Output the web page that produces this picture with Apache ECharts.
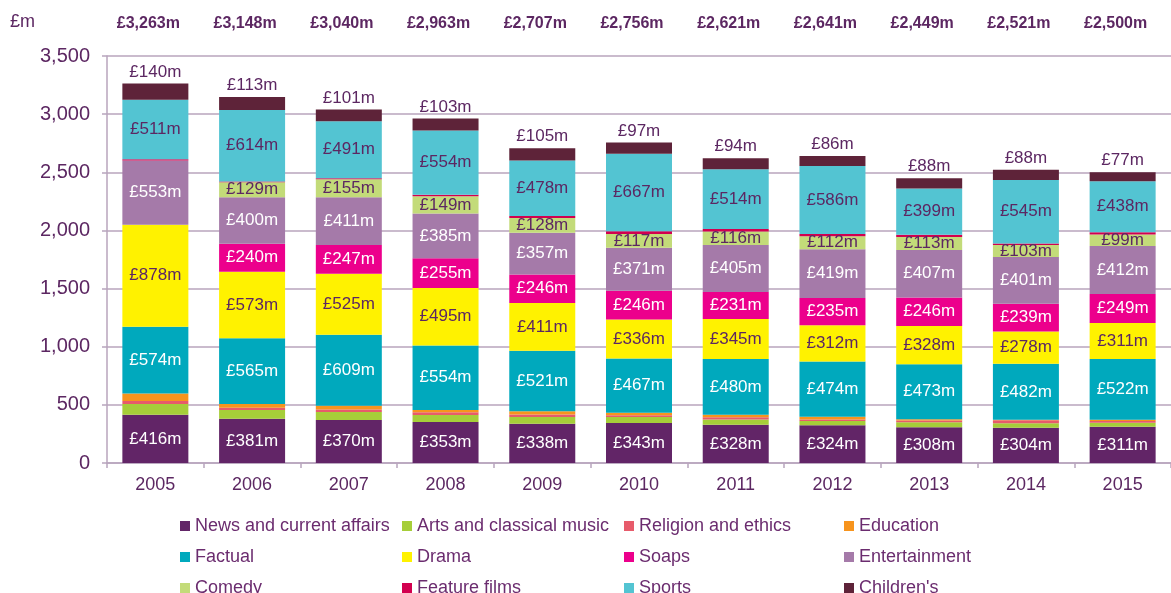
<!DOCTYPE html>
<html>
<head>
<meta charset="utf-8">
<script src="https://cdn.jsdelivr.net/npm/echarts@6/dist/echarts.min.js"></script>
<style>
  html, body { margin: 0; padding: 0; background: #fff; }
  #container { width: 1171px; height: 593px; }
</style>
</head>
<body>
<div id="container"></div>
<script>
var years = ['2005', '2006', '2007', '2008', '2009', '2010', '2011', '2012', '2013', '2014', '2015'];
var totals = ['£3,263m', '£3,148m', '£3,040m', '£2,963m', '£2,707m', '£2,756m', '£2,621m', '£2,641m', '£2,449m', '£2,521m', '£2,500m'];

var news = [416, 381, 370, 353, 338, 343, 328, 324, 308, 304, 311];
var arts = [92, 74, 69, 60, 57, 52, 46, 37, 42, 38, 36];
var religion = [26, 20, 20, 23, 23, 15, 20, 14, 15, 26, 15];
var education = [63, 32, 34, 20, 26, 22, 20, 23, 12, 3, 10];
var factual = [574, 565, 609, 554, 521, 467, 480, 474, 473, 482, 522];
var drama = [878, 573, 525, 495, 411, 336, 345, 312, 328, 278, 311];
var soaps = [0, 240, 247, 255, 246, 246, 231, 235, 246, 239, 249];
var entertainment = [553, 400, 411, 385, 357, 371, 405, 419, 407, 401, 412];
var comedy = [0, 129, 155, 149, 128, 117, 116, 112, 113, 103, 99];
var featureFilms = [10, 7, 8, 12, 17, 23, 22, 19, 18, 14, 20];
var sports = [511, 614, 491, 554, 478, 667, 514, 586, 399, 545, 438];
var childrens = [140, 113, 101, 103, 105, 97, 94, 86, 88, 88, 77];

var yTicks = ['0', '500', '1,000', '1,500', '2,000', '2,500', '3,000', '3,500'];

// legend rows, read left to right
var legendRows = [
    ['News and current affairs', 'Arts and classical music', 'Religion and ethics', 'Education'],
    ['Factual', 'Drama', 'Soaps', 'Entertainment'],
    ['Comedy', 'Feature films', 'Sports', "Children's"]
];

var FONT = "'Liberation Sans', Arial, sans-serif";
var PURPLE = '#5c2762';

function graficoGeneros() {
    var dom = document.getElementById('container');
    var myChart = echarts.init(dom);
    var option;

    function serie(name, data, color, labelColor) {
        var s = {
            name: name,
            type: 'bar',
            stack: 'total',
            barWidth: 66,
            data: data,
            itemStyle: { color: color },
            label: { show: false }
        };
        if (labelColor) {
            s.label = {
                show: true,
                position: 'inside',
                color: labelColor,
                fontSize: 17,
                fontFamily: FONT,
                formatter: function (p) { return p.value > 0 ? '£' + p.value + 'm' : ''; }
            };
        }
        return s;
    }

    var kids = serie("Children's", childrens, '#5e2339');
    kids.label = {
        show: true,
        position: 'top',
        distance: 3,
        color: PURPLE,
        fontSize: 17,
        fontFamily: FONT,
        formatter: '£{c}m'
    };

    // one legend per item so the columns line up like the original
    var cols = [180, 402, 624, 844];
    var rowsY = [524, 555, 586];
    var legends = [];
    legendRows.forEach(function (row, r) {
        row.forEach(function (name, c) {
            legends.push({
                left: cols[c] - 5,
                top: rowsY[r] - 14,
                itemWidth: 10,
                itemHeight: 10,
                icon: 'rect',
                data: [name],
                textStyle: { color: '#6b2c6f', fontSize: 18, fontFamily: FONT, lineHeight: 22 }
            });
        });
    });

    option = {
        animation: false,
        textStyle: { fontFamily: FONT },
        title: {
            text: '£m',
            left: 5,
            top: 8,
            textStyle: { color: PURPLE, fontSize: 18, fontWeight: 'normal', fontFamily: FONT }
        },
        legend: legends,
        grid: { left: 107, right: -14, top: 56, bottom: 130 },
        xAxis: [{
            type: 'category',
            data: years,
            axisLine: { lineStyle: { color: '#b8a5bd', width: 1.5 } },
            axisTick: { show: true, length: 5, lineStyle: { color: '#b8a5bd', width: 1.5 } },
            axisLabel: { color: PURPLE, fontSize: 18, margin: 13, fontFamily: FONT }
        }, {
            type: 'category',
            position: 'top',
            data: totals,
            axisLine: { show: false },
            axisTick: { show: false },
            axisLabel: { color: PURPLE, fontSize: 16, fontWeight: 'bold', margin: 24, padding: [0, 14, 0, 0], fontFamily: FONT }
        }],
        yAxis: {
            type: 'value',
            min: 0,
            max: 3500,
            interval: 500,
            axisLine: { show: true, lineStyle: { color: '#b8a5bd', width: 1.5 } },
            axisTick: { show: true, length: 5, lineStyle: { color: '#b8a5bd', width: 1.5 } },
            splitLine: { lineStyle: { color: '#b8a5bd', width: 1.5 } },
            axisLabel: {
                color: PURPLE,
                fontSize: 20,
                margin: 17,
                fontFamily: FONT,
                formatter: function (v) { return yTicks[v / 500]; }
            }
        },
        series: [
            serie('News and current affairs', news, '#622567', '#ffffff'),
            serie('Arts and classical music', arts, '#a6ce39'),
            serie('Religion and ethics', religion, '#e75b6b'),
            serie('Education', education, '#f7941d'),
            serie('Factual', factual, '#00a9bd', '#ffffff'),
            serie('Drama', drama, '#fff200', PURPLE),
            serie('Soaps', soaps, '#ec008c', '#ffffff'),
            serie('Entertainment', entertainment, '#a57aa9', '#ffffff'),
            serie('Comedy', comedy, '#c3db79', PURPLE),
            serie('Feature films', featureFilms, '#d2004f'),
            serie('Sports', sports, '#53c4d2', PURPLE),
            kids
        ]
    };

    if (option && typeof option === 'object') {
        myChart.setOption(option);
    }
}
graficoGeneros();
</script>
</body>
</html>
